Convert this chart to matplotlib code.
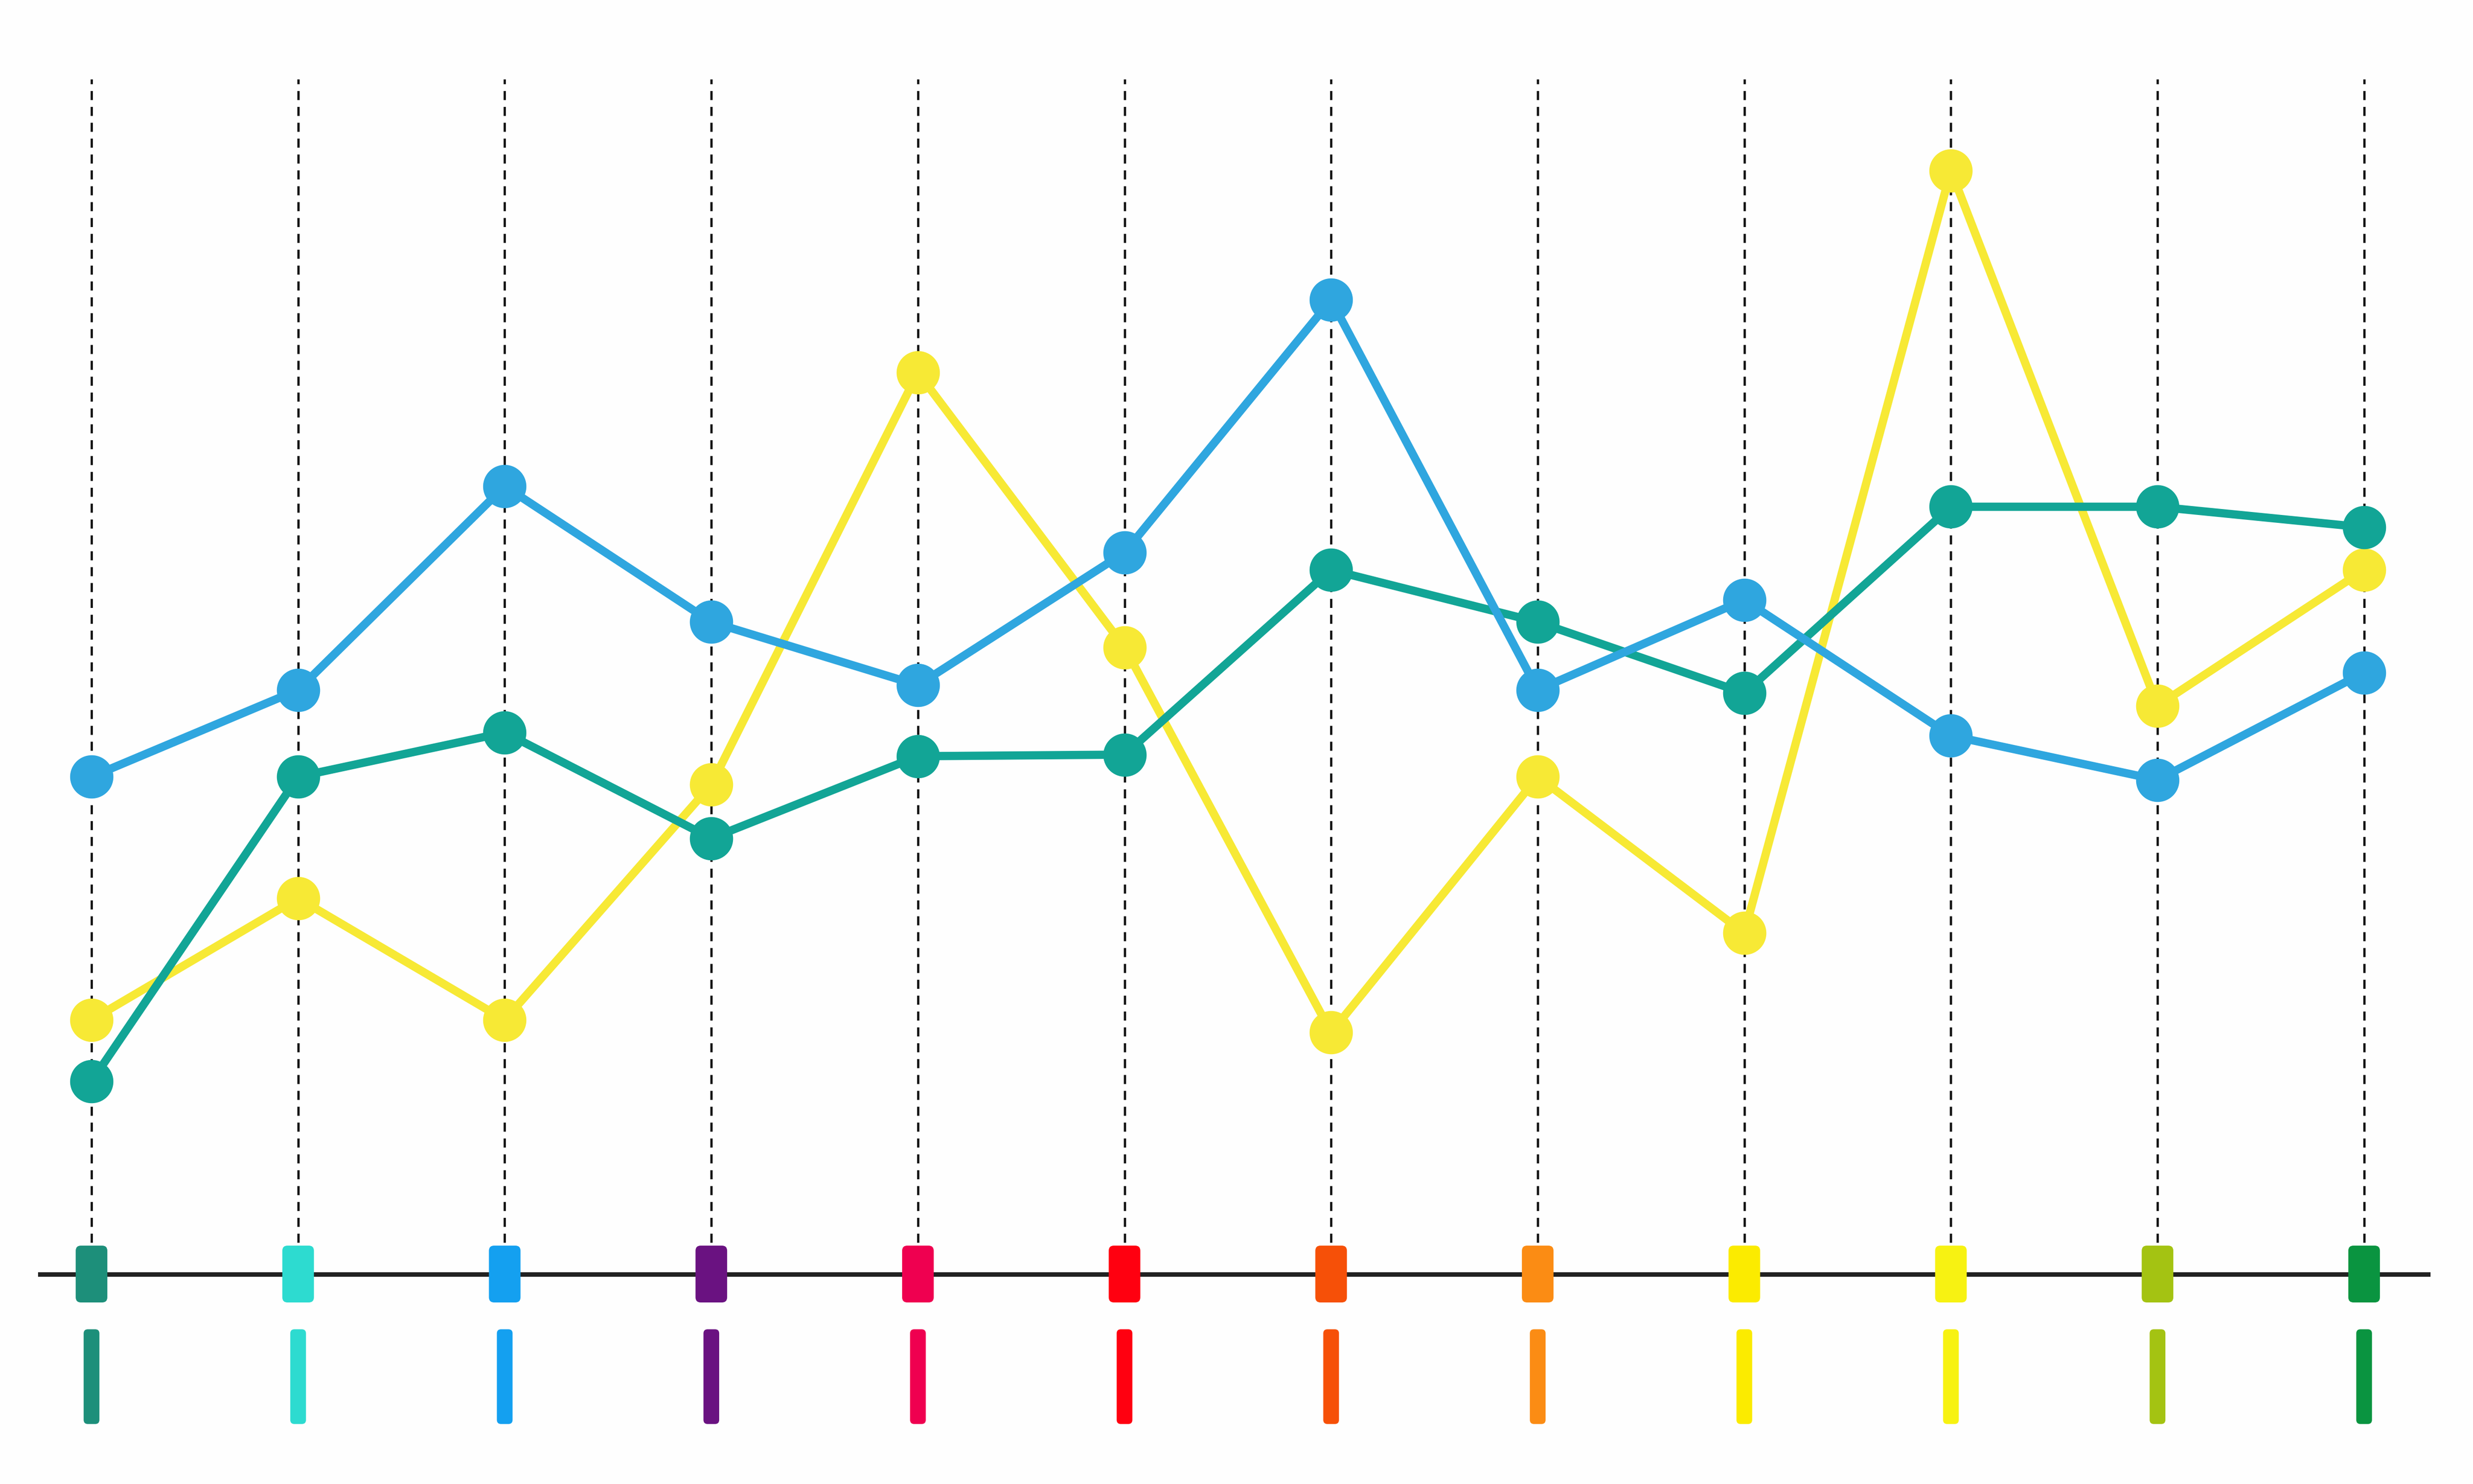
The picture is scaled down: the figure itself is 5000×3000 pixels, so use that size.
import matplotlib.pyplot as plt
from matplotlib.patches import FancyBboxPatch

categories = list(range(12))
blue = [315, 370, 499, 413, 373, 457, 617, 370, 427, 341, 313, 381]
teal = [122, 315, 343, 276, 328, 329, 446, 413, 368, 486, 486, 473]
yellow = [161, 238, 161, 310, 571, 397, 153, 315, 216, 699, 360, 446]
tick_colors = ['#1d8f7a', '#2ddbd0', '#14a0f0', '#6a1281', '#ef0050', '#ff0010',
               '#f65008', '#fb8c14', '#fbeb00', '#f7f212', '#a4c312', '#0a9440']

fig = plt.figure(figsize=(5000 / 300, 3000 / 300), dpi=300)
fig.patch.set_facecolor('#fefefe')
ax = fig.add_axes([0, 0, 1, 1])
ax.set_facecolor('#fefefe')
ax.set_xlim(-0.443, 11.527)
ax.set_ylim(-133, 807)
ax.axis('off')

# dashed guides
for x in categories:
    ax.plot([x, x], [0, 757], ls=(0, (4, 3)), color='#111111', lw=1.1, zorder=1)

# baseline
ax.plot([-0.25, 11.31], [0, 0], color='#222222', lw=2.2, zorder=2)

for vals, col in [(yellow, '#f7e935'), (teal, '#12a596'), (blue, '#2fa6df')]:
    ax.plot(categories, vals, color=col, lw=4, marker='o', ms=20, zorder=3)

# coloured markers on the axis and below
for x, c in zip(categories, tick_colors):
    ax.add_patch(FancyBboxPatch((x - 0.0765, -18), 0.153, 36,
                                boxstyle='round,pad=0,rounding_size=0.025',
                                mutation_aspect=130, fc=c, ec='none', zorder=4))
    ax.add_patch(FancyBboxPatch((x - 0.038, -95), 0.076, 60,
                                boxstyle='round,pad=0,rounding_size=0.02',
                                mutation_aspect=130, fc=c, ec='none', zorder=4))

fig.savefig('out.png', dpi=300, facecolor=fig.get_facecolor())
